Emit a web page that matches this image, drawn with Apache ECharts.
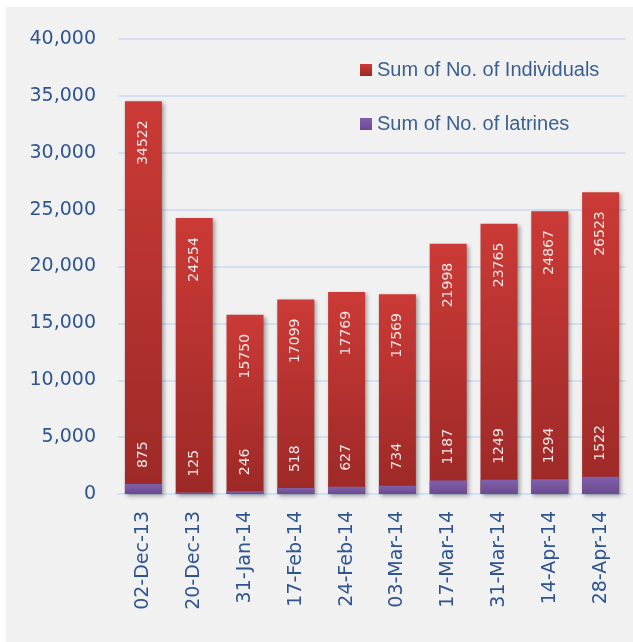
<!DOCTYPE html>
<html>
<head>
<meta charset="utf-8">
<script src="https://cdn.jsdelivr.net/npm/echarts@6/dist/echarts.min.js"></script>
<style>
  html, body { margin: 0; padding: 0; background: #ffffff; }
  #main { position: absolute; left: 6px; top: 7px; width: 627px; height: 635px; background: #f1f1f1; }
</style>
</head>
<body>
<div id="main"></div>
<script>
const dates = ['02-Dec-13', '20-Dec-13', '31-Jan-14', '17-Feb-14', '24-Feb-14',
               '03-Mar-14', '17-Mar-14', '31-Mar-14', '14-Apr-14', '28-Apr-14'];
const individuals = [34522, 24254, 15750, 17099, 17769, 17569, 21998, 23765, 24867, 26523];
const latrines = [875, 125, 246, 518, 627, 734, 1187, 1249, 1294, 1522];
const yTicks = [0, 5000, 10000, 15000, 20000, 25000, 30000, 35000, 40000];

const chart = echarts.init(document.getElementById('main'));

const redFill = new echarts.graphic.LinearGradient(0, 0, 0, 1, [
    { offset: 0, color: '#cb3a36' },
    { offset: 1, color: '#9c2927' }
]);
const purpleFill = new echarts.graphic.LinearGradient(0, 0, 0, 1, [
    { offset: 0, color: '#8160ab' },
    { offset: 1, color: '#694a90' }
]);

const option = {
    animation: false,
    grid: { left: 112, right: 7, top: 32, bottom: 148, containLabel: false },
    legend: {
        orient: 'vertical',
        left: 354,
        top: 53,
        padding: 0,
        itemWidth: 12,
        itemHeight: 12,
        itemGap: 34,
        icon: 'rect',
        textStyle: { fontFamily: 'Liberation Sans', fontSize: 20, color: '#3b5f8e' },
        data: ['Sum of No. of Individuals', 'Sum of No. of latrines']
    },
    xAxis: {
        type: 'category',
        data: dates,
        axisTick: { show: false },
        axisLine: { lineStyle: { color: '#d3e0f1', width: 2 } },
        axisLabel: {
            rotate: 90,
            margin: 17,
            fontFamily: 'DejaVu Sans',
            fontSize: 19,
            color: '#2f5590'
        }
    },
    yAxis: {
        type: 'value',
        min: yTicks[0],
        max: yTicks[yTicks.length - 1],
        interval: 5000,
        axisLine: { show: false },
        axisTick: { show: false },
        splitLine: { lineStyle: { color: '#d3e0f1', width: 2 } },
        axisLabel: {
            margin: 22,
            fontFamily: 'DejaVu Sans',
            fontSize: 19,
            color: '#2f5590',
            formatter: v => v.toLocaleString('en-US')
        }
    },
    series: [
        {
            name: 'Sum of No. of Individuals',
            type: 'bar',
            data: individuals,
            barWidth: 37,
            barGap: '-100%',
            itemStyle: {
                color: redFill,
                shadowColor: 'rgba(0,0,0,0.35)',
                shadowBlur: 4,
                shadowOffsetX: 2,
                shadowOffsetY: 2
            },
            label: {
                show: true,
                position: 'insideTop',
                distance: 19,
                rotate: 90,
                align: 'right',
                verticalAlign: 'middle',
                fontFamily: 'DejaVu Sans',
                fontSize: 14,
                color: '#f4e6e6'
            }
        },
        {
            name: 'Sum of No. of latrines',
            type: 'bar',
            data: latrines,
            barWidth: 37,
            itemStyle: { color: purpleFill },
            label: {
                show: true,
                position: 'top',
                distance: 16,
                rotate: 90,
                align: 'left',
                verticalAlign: 'middle',
                fontFamily: 'DejaVu Sans',
                fontSize: 14,
                color: '#f4e6e6'
            }
        }
    ]
};

chart.setOption(option);
</script>
</body>
</html>
